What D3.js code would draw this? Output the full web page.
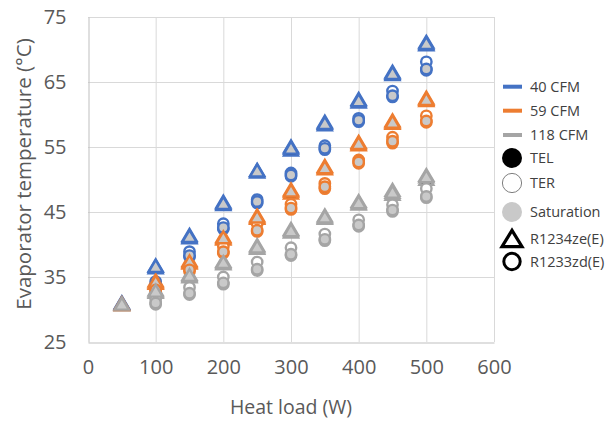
<!DOCTYPE html>
<html>
<head>
<meta charset="utf-8">
<script src="https://cdn.jsdelivr.net/npm/d3@7"></script>
<style>
  html, body { margin: 0; padding: 0; background: #fff; }
  svg { display: block; }
  text { font-family: "Open Sans", "Liberation Sans", sans-serif; }
</style>
</head>
<body>
<svg id="chart" width="615" height="423"></svg>
<script>
// Heat load steps (W)
const heatLoad = [50, 100, 150, 200, 250, 300, 350, 400, 450, 500];
const xTicks = [0, 100, 200, 300, 400, 500, 600];
const yTicks = [25, 35, 45, 55, 65, 75];

const cfmNames = ["40 CFM", "59 CFM", "118 CFM"];
const cfmColors = ["#4472C4", "#ED7D31", "#A5A5A5"];
const typeNames = ["TEL", "TER", "Saturation"];
const fluidNames = ["R1234ze(E)", "R1233zd(E)"];

// R1234ze(E) evaporator temperatures (°C)
const ze40Tel = [30.8, 36.4, 41.0, 46.1, 51.1, 54.5, 58.4, 61.9, 66.1, 70.7];
const ze40Ter = [31.0, 36.7, 41.4, 46.5, 51.4, 55.0, 58.8, 62.3, 66.5, 71.1];
const ze40Sat = [30.9, 36.6, 41.2, 46.3, 51.3, 54.8, 58.6, 62.1, 66.3, 70.9];

const ze59Tel = [30.7, 34.0, 37.1, 40.8, 44.0, 47.9, 51.6, 55.3, 58.6, 62.1];
const ze59Ter = [30.9, 34.4, 37.5, 41.2, 44.4, 48.4, 52.0, 55.7, 59.0, 62.5];
const ze59Sat = [30.8, 34.2, 37.3, 41.0, 44.2, 48.2, 51.8, 55.5, 58.8, 62.3];

const ze118Tel = [30.7, 32.6, 35.0, 37.0, 39.4, 41.9, 44.0, 46.2, 47.7, 50.0];
const ze118Ter = [30.9, 33.0, 35.4, 37.4, 39.8, 42.3, 44.4, 46.6, 48.3, 50.6];
const ze118Sat = [30.8, 32.8, 35.2, 37.2, 39.6, 42.1, 44.2, 46.4, 48.0, 50.4];

// R1233zd(E) evaporator temperatures (°C), no run at 50 W
const zd40Tel = [null, 33.6, 38.1, 42.4, 46.4, 50.5, 54.6, 58.9, 62.7, 66.8];
const zd40Ter = [null, 34.3, 38.9, 43.2, 46.9, 51.0, 55.2, 59.4, 63.6, 68.1];
const zd40Sat = [null, 33.8, 38.3, 42.6, 46.6, 50.7, 54.8, 59.1, 62.9, 67.0];

const zd59Tel = [null, 32.8, 35.9, 38.7, 42.0, 45.4, 48.6, 52.5, 55.6, 58.8];
const zd59Ter = [null, 33.5, 36.7, 39.7, 43.2, 46.2, 49.4, 53.0, 56.5, 59.8];
const zd59Sat = [null, 33.0, 36.1, 38.9, 42.2, 45.6, 48.9, 52.7, 55.9, 59.0];

const zd118Tel = [null, 30.8, 32.3, 33.9, 36.0, 38.3, 40.6, 42.8, 45.1, 47.2];
const zd118Ter = [null, 31.6, 33.4, 35.0, 37.3, 39.5, 41.6, 43.8, 46.1, 48.6];
const zd118Sat = [null, 31.0, 32.5, 34.1, 36.2, 38.5, 40.8, 43.0, 45.3, 47.4];

// Series table: [fluid index, cfm index, type index, values]
const series = [
  [0, 0, 0, ze40Tel], [1, 0, 0, zd40Tel],
  [0, 1, 0, ze59Tel], [1, 1, 0, zd59Tel],
  [0, 2, 0, ze118Tel], [1, 2, 0, zd118Tel],
  [0, 0, 1, ze40Ter], [1, 0, 1, zd40Ter],
  [0, 1, 1, ze59Ter], [1, 1, 1, zd59Ter],
  [0, 2, 1, ze118Ter], [1, 2, 1, zd118Ter],
  [0, 0, 2, ze40Sat], [1, 0, 2, zd40Sat],
  [0, 1, 2, ze59Sat], [1, 1, 2, zd59Sat],
  [0, 2, 2, ze118Sat], [1, 2, 2, zd118Sat]
];

const typeFills = ["#000000", "#FFFFFF", "#C9C9C9"];

const svg = d3.select("#chart");
const plot = { left: 88, right: 494, top: 17, bottom: 342 };

const x = d3.scaleLinear().domain([0, 600]).range([plot.left, plot.right]);
const y = d3.scaleLinear().domain([25, 75]).range([plot.bottom, plot.top]);

// gridlines
const grid = svg.append("g");
grid.selectAll("line.h").data(yTicks.slice(1)).join("line")
  .attr("x1", plot.left).attr("x2", plot.right)
  .attr("y1", d => y(d) + 0.5).attr("y2", d => y(d) + 0.5)
  .attr("stroke", "#D9D9D9").attr("stroke-width", 1);
grid.selectAll("line.v").data(xTicks.slice(1)).join("line")
  .attr("y1", plot.top).attr("y2", plot.bottom)
  .attr("x1", d => x(d) + 0.5).attr("x2", d => x(d) + 0.5)
  .attr("stroke", "#D9D9D9").attr("stroke-width", 1);

// axes
const xAxis = svg.append("g")
  .attr("transform", `translate(0,${plot.bottom + 0.5})`)
  .call(d3.axisBottom(x).tickValues(xTicks).tickSize(0).tickPadding(17));
const yAxis = svg.append("g")
  .attr("transform", `translate(${plot.left + 0.5},0)`)
  .call(d3.axisLeft(y).tickValues(yTicks).tickSize(0).tickPadding(22));
[xAxis, yAxis].forEach(g => {
  g.select(".domain").attr("stroke", "#BFBFBF").attr("stroke-width", 1);
  g.selectAll("text")
    .attr("fill", "#595959")
    .style("font-size", "20px")
    .style("font-family", "'Open Sans', sans-serif");
});

// axis titles
svg.append("text")
  .attr("x", (plot.left + plot.right) / 2).attr("y", 414)
  .attr("text-anchor", "middle").attr("fill", "#595959")
  .style("font-size", "19.5px")
  .text("Heat load (W)");
svg.append("text")
  .attr("transform", `translate(31,174) rotate(-90)`)
  .attr("text-anchor", "middle").attr("fill", "#595959")
  .style("font-size", "20.5px")
  .text("Evaporator temperature (°C)");

// marker shapes
const trianglePath = "M0,-6.6L7,5.3L-7,5.3Z";
const marks = svg.append("g");
series.forEach(([fi, ci, ti, vals]) => {
  const pts = heatLoad.map((h, i) => ({ h, v: vals[i] })).filter(d => d.v != null);
  if (fi === 0) {
    marks.append("g").selectAll("path").data(pts).join("path")
      .attr("d", trianglePath)
      .attr("transform", d => `translate(${x(d.h)},${y(d.v)})`)
      .attr("fill", typeFills[ti])
      .attr("stroke", cfmColors[ci])
      .attr("stroke-width", 2.4)
      .attr("stroke-linejoin", "miter");
  } else {
    marks.append("g").selectAll("circle").data(pts).join("circle")
      .attr("cx", d => x(d.h)).attr("cy", d => y(d.v))
      .attr("r", 5.2)
      .attr("fill", typeFills[ti])
      .attr("stroke", cfmColors[ci])
      .attr("stroke-width", 2.4);
  }
});

// legend
const legend = svg.append("g");
const lgX = 512, lgText = 530;
const lgRows = [86.7, 110.7, 135, 158, 183, 212, 239, 261.5];
cfmNames.forEach((name, i) => {
  legend.append("rect")
    .attr("x", 503).attr("y", lgRows[i] - 2).attr("width", 19).attr("height", 4)
    .attr("fill", cfmColors[i]);
});
legend.append("circle").attr("cx", lgX).attr("cy", lgRows[3]).attr("r", 10)
  .attr("fill", typeFills[0]);
legend.append("circle").attr("cx", lgX).attr("cy", lgRows[4]).attr("r", 9.6)
  .attr("fill", typeFills[1]).attr("stroke", "#7F7F7F").attr("stroke-width", 1);
legend.append("circle").attr("cx", lgX).attr("cy", lgRows[5]).attr("r", 10)
  .attr("fill", typeFills[2]);
legend.append("path").attr("d", "M0,-8.6L10,7.6L-10,7.6Z")
  .attr("transform", `translate(${lgX},${lgRows[6]})`)
  .attr("fill", "none").attr("stroke", "#000").attr("stroke-width", 3.2);
legend.append("circle").attr("cx", lgX).attr("cy", lgRows[7]).attr("r", 8.2)
  .attr("fill", "none").attr("stroke", "#000").attr("stroke-width", 3);

const legendLabels = cfmNames.concat(typeNames, fluidNames);
legend.selectAll("text.lg").data(legendLabels).join("text")
  .attr("class", "lg")
  .attr("x", lgText).attr("y", (d, i) => lgRows[i])
  .attr("dy", "0.35em")
  .attr("fill", "#404040")
  .style("font-size", "14.5px")
  .text(d => d);
</script>
</body>
</html>
